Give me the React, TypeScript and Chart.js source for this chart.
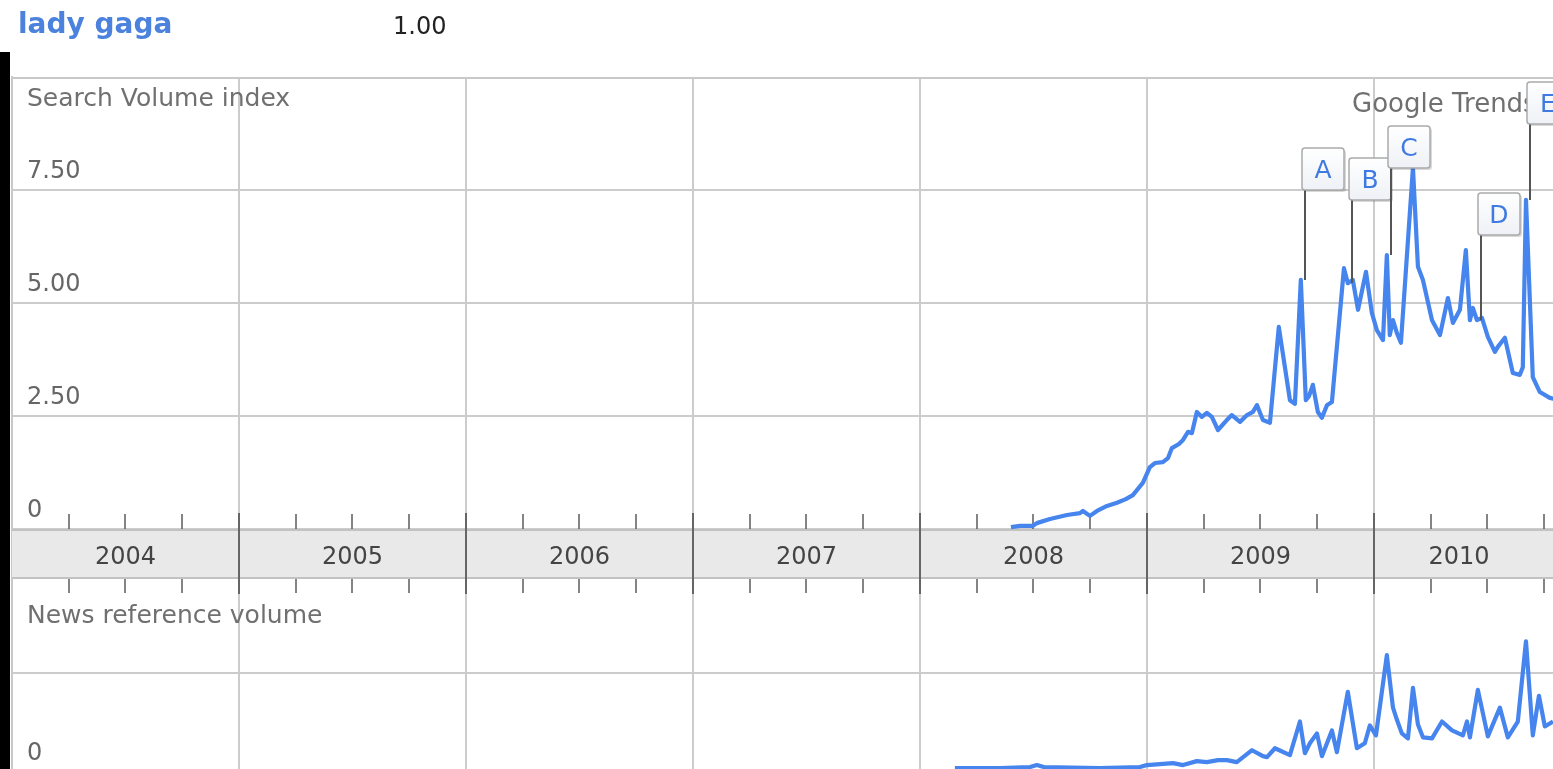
import React, { useEffect, useRef } from 'react';
import { Chart, registerables } from 'chart.js';

Chart.register(...registerables);

// ---------------- data ----------------
const YEARS = [2004, 2005, 2006, 2007, 2008, 2009, 2010];
const YEAR_LABELS = ['2004', '2005', '2006', '2007', '2008', '2009', '2010'];
const AXIS_START = 2004;
const AXIS_END = 2010.789;
const DATA_END = 2010.75;

const SEARCH_TICKS = [0, 2.5, 5, 7.5];
const SEARCH_TICK_LABELS = ['0', '2.50', '5.00', '7.50'];
const NEWS_TICKS = [0, 1];
const NEWS_TICK_LABELS = ['0', ''];

const SEARCH_DATES = [
  2008.401, 2008.441, 2008.498, 2008.515, 2008.573, 2008.648, 2008.705, 2008.718, 2008.749, 2008.780,
  2008.824, 2008.868, 2008.907, 2008.938, 2008.982, 2009.013, 2009.035, 2009.070, 2009.093, 2009.110,
  2009.141, 2009.159, 2009.181, 2009.198, 2009.220, 2009.242, 2009.264, 2009.286, 2009.313, 2009.352,
  2009.374, 2009.410, 2009.441, 2009.467, 2009.485, 2009.511, 2009.542, 2009.581, 2009.630, 2009.652,
  2009.678, 2009.700, 2009.714, 2009.731, 2009.753, 2009.771, 2009.793, 2009.815, 2009.868, 2009.885,
  2009.907, 2009.930, 2009.965, 2009.991, 2010.013, 2010.040, 2010.057, 2010.070, 2010.084, 2010.101,
  2010.119, 2010.172, 2010.194, 2010.216, 2010.256, 2010.291, 2010.326, 2010.348, 2010.379, 2010.405,
  2010.423, 2010.436, 2010.454, 2010.476, 2010.502, 2010.533, 2010.546, 2010.577, 2010.612, 2010.643,
  2010.656, 2010.670, 2010.700, 2010.731, 2010.775, 2010.819,
];
const SEARCH_VALUES = [
  0.04, 0.07, 0.07, 0.13, 0.22, 0.31, 0.35, 0.40, 0.29, 0.40,
  0.51, 0.58, 0.66, 0.75, 1.02, 1.37, 1.46, 1.48, 1.57, 1.79,
  1.88, 1.97, 2.15, 2.12, 2.59, 2.48, 2.57, 2.48, 2.19, 2.41,
  2.52, 2.37, 2.52, 2.59, 2.74, 2.41, 2.35, 4.47, 2.85, 2.77,
  5.51, 2.85, 2.94, 3.19, 2.59, 2.46, 2.74, 2.81, 5.77, 5.44,
  5.51, 4.85, 5.69, 4.78, 4.40, 4.18, 6.06, 4.29, 4.62, 4.34,
  4.12, 7.99, 5.80, 5.51, 4.62, 4.29, 5.11, 4.56, 4.85, 6.17,
  4.62, 4.89, 4.62, 4.67, 4.25, 3.92, 4.03, 4.23, 3.45, 3.41,
  3.58, 7.28, 3.36, 3.03, 2.90, 2.85,
];

const NEWS_DATES = [
  2008.154, 2008.352, 2008.485, 2008.515, 2008.546, 2008.793, 2008.969, 2009.000, 2009.115, 2009.159,
  2009.220, 2009.264, 2009.313, 2009.352, 2009.396, 2009.463, 2009.511, 2009.529, 2009.564, 2009.630,
  2009.674, 2009.696, 2009.718, 2009.749, 2009.771, 2009.815, 2009.837, 2009.885, 2009.925, 2009.960,
  2009.982, 2010.009, 2010.057, 2010.084, 2010.101, 2010.123, 2010.150, 2010.172, 2010.194, 2010.216,
  2010.256, 2010.300, 2010.344, 2010.392, 2010.410, 2010.423, 2010.458, 2010.502, 2010.555, 2010.590,
  2010.634, 2010.670, 2010.700, 2010.727, 2010.753, 2010.789, 2010.819,
];
const NEWS_VALUES = [
  0.04, 0.04, 0.05, 0.07, 0.05, 0.04, 0.05, 0.07, 0.09, 0.07,
  0.11, 0.10, 0.12, 0.12, 0.10, 0.22, 0.16, 0.15, 0.24, 0.17,
  0.51, 0.19, 0.29, 0.39, 0.16, 0.42, 0.20, 0.81, 0.24, 0.29,
  0.47, 0.37, 1.18, 0.65, 0.53, 0.39, 0.34, 0.85, 0.48, 0.35,
  0.34, 0.51, 0.42, 0.37, 0.51, 0.35, 0.83, 0.36, 0.65, 0.35,
  0.51, 1.32, 0.37, 0.77, 0.46, 0.51, 0.50,
];

const FLAG_LETTERS = ['A', 'B', 'C', 'D', 'E'];
const FLAG_DATES = [2009.678, 2009.885, 2010.057, 2010.454, 2010.670];

// ---------------- layout / style ----------------
const W = 1553;
const H = 769;
const PLOT_LEFT = 12;
const PLOT_TOP = 77;
const SEARCH_ZERO_PX = 529;
const SEARCH_PX_PER_UNIT = 339 / 7.5;
const NEWS_ZERO_PX = 772;
const NEWS_PX_PER_UNIT = 99;
const FLAG_BOX_TOPS = [148, 158, 126, 193, 82];
const FLAG_BOX_SIZE = 42;
const FONT = '"DejaVu Sans", sans-serif';
const BLUE = '#4684ee';
const GRID = '#cccccc';

function roundRect(ctx: CanvasRenderingContext2D, x: number, y: number, w: number, h: number, r: number) {
  ctx.beginPath();
  ctx.moveTo(x + r, y);
  ctx.lineTo(x + w - r, y);
  ctx.quadraticCurveTo(x + w, y, x + w, y + r);
  ctx.lineTo(x + w, y + h - r);
  ctx.quadraticCurveTo(x + w, y + h, x + w - r, y + h);
  ctx.lineTo(x + r, y + h);
  ctx.quadraticCurveTo(x, y + h, x, y + h - r);
  ctx.lineTo(x, y + r);
  ctx.quadraticCurveTo(x, y, x + r, y);
  ctx.closePath();
}

const zeroFit = (s: any) => {
  if (s.isHorizontal()) s.height = 0;
  else s.width = 0;
  s.paddingTop = 0;
  s.paddingBottom = 0;
  s.paddingLeft = 0;
  s.paddingRight = 0;
};

const trendsPlugin = {
  id: 'trendsDecor',
  beforeDatasetsDraw(chart: any) {
    const { ctx, chartArea: ca, scales } = chart;
    const xs = scales.x;
    const ys = scales.y;
    const bandTop = Math.round(ys.getPixelForValue(0)) + 1;
    const bandBottom = bandTop + 48;
    ctx.save();
    // top border of the chart box
    ctx.strokeStyle = '#c8c8c8';
    ctx.lineWidth = 2;
    ctx.beginPath();
    ctx.moveTo(ca.left, ca.top + 1);
    ctx.lineTo(ca.right, ca.top + 1);
    ctx.stroke();
    // date band
    ctx.fillStyle = '#e9e9e9';
    ctx.fillRect(ca.left, bandTop, ca.right - ca.left, bandBottom - bandTop);
    ctx.strokeStyle = '#c2c2c2';
    ctx.lineWidth = 2;
    ctx.beginPath();
    ctx.moveTo(ca.left, bandTop);
    ctx.lineTo(ca.right, bandTop);
    ctx.moveTo(ca.left, bandBottom);
    ctx.lineTo(ca.right, bandBottom);
    ctx.stroke();
    // year boundaries and quarter ticks
    ctx.strokeStyle = '#666';
    YEARS.forEach((yr) => {
      const px = Math.round(xs.getPixelForValue(yr));
      if (yr > AXIS_START) {
        ctx.lineWidth = 2;
        ctx.beginPath();
        ctx.moveTo(px, bandTop - 17);
        ctx.lineTo(px, bandBottom + 16);
        ctx.stroke();
      }
      for (let q = 1; q < 4; q++) {
        const qx = Math.round(xs.getPixelForValue(yr + q / 4));
        ctx.lineWidth = 1.6;
        ctx.beginPath();
        ctx.moveTo(qx, bandTop - 16);
        ctx.lineTo(qx, bandTop - 1);
        ctx.moveTo(qx, bandBottom + 1);
        ctx.lineTo(qx, bandBottom + 15);
        ctx.stroke();
      }
    });
    // year labels
    ctx.fillStyle = '#444';
    ctx.font = `24px ${FONT}`;
    ctx.textAlign = 'center';
    ctx.textBaseline = 'alphabetic';
    YEARS.forEach((yr, i) => {
      const mid = (yr + Math.min(yr + 1, DATA_END)) / 2;
      ctx.fillText(YEAR_LABELS[i], xs.getPixelForValue(mid), bandBottom - 14);
    });
    // panel titles
    ctx.fillStyle = '#707070';
    ctx.font = `25px ${FONT}`;
    ctx.textAlign = 'left';
    ctx.fillText('Search Volume index', ca.left + 15, 106);
    ctx.fillText('News reference volume', ca.left + 15, 623);
    ctx.font = `26px ${FONT}`;
    ctx.fillText('Google Trends', 1352, 112);
    ctx.restore();
  },
  afterDatasetsDraw(chart: any) {
    const { ctx, scales } = chart;
    const xs = scales.x;
    const ys = scales.y;
    ctx.save();
    FLAG_LETTERS.forEach((letter, i) => {
      const idx = SEARCH_DATES.indexOf(FLAG_DATES[i]);
      const px = xs.getPixelForValue(FLAG_DATES[i]);
      const py = ys.getPixelForValue(SEARCH_VALUES[idx]);
      const lineX = Math.round(px + 4);
      const top = FLAG_BOX_TOPS[i];
      const bottom = top + FLAG_BOX_SIZE;
      ctx.strokeStyle = '#555';
      ctx.lineWidth = 2;
      ctx.beginPath();
      ctx.moveTo(lineX, bottom);
      ctx.lineTo(lineX, py);
      ctx.stroke();
      const left = lineX - 3;
      ctx.fillStyle = 'rgba(0,0,0,0.15)';
      roundRect(ctx, left + 2, top + 2, FLAG_BOX_SIZE, FLAG_BOX_SIZE, 3);
      ctx.fill();
      const g = ctx.createLinearGradient(0, top, 0, bottom);
      g.addColorStop(0, '#ffffff');
      g.addColorStop(1, '#eef1f6');
      ctx.fillStyle = g;
      roundRect(ctx, left, top, FLAG_BOX_SIZE, FLAG_BOX_SIZE, 3);
      ctx.fill();
      ctx.strokeStyle = '#aaaaaa';
      ctx.lineWidth = 1.5;
      ctx.stroke();
      ctx.fillStyle = '#3f7ae0';
      ctx.font = `25px ${FONT}`;
      ctx.textAlign = 'center';
      ctx.textBaseline = 'alphabetic';
      ctx.fillText(letter, left + FLAG_BOX_SIZE / 2, top + 30);
    });
    ctx.restore();
  },
};

export default function App() {
  const ref = useRef<HTMLCanvasElement>(null);
  useEffect(() => {
    document.body.style.margin = '0';
    document.body.style.overflow = 'hidden';
    const canvas = ref.current!;
    const searchMax = (SEARCH_ZERO_PX - PLOT_TOP) / SEARCH_PX_PER_UNIT;
    const searchMin = -(H - SEARCH_ZERO_PX) / SEARCH_PX_PER_UNIT;
    const newsMax = (NEWS_ZERO_PX - PLOT_TOP) / NEWS_PX_PER_UNIT;
    const newsMin = (NEWS_ZERO_PX - H) / NEWS_PX_PER_UNIT;
    const chart = new Chart(canvas, {
      type: 'line',
      data: {
        datasets: [
          {
            label: 'Search Volume index',
            data: SEARCH_DATES.map((d, i) => ({ x: d, y: SEARCH_VALUES[i] })),
            xAxisID: 'x',
            yAxisID: 'y',
            borderColor: BLUE,
            borderWidth: 4.2,
            pointRadius: 0,
            tension: 0,
            fill: false,
            borderJoinStyle: 'round',
          },
          {
            label: 'News reference volume',
            data: NEWS_DATES.map((d, i) => ({ x: d, y: NEWS_VALUES[i] })),
            xAxisID: 'x',
            yAxisID: 'y2',
            borderColor: BLUE,
            borderWidth: 4.2,
            pointRadius: 0,
            tension: 0,
            fill: false,
            borderJoinStyle: 'round',
            clip: 4,
          },
        ],
      },
      options: {
        responsive: false,
        animation: false,
        devicePixelRatio: 1,
        layout: { padding: { left: PLOT_LEFT, top: PLOT_TOP, right: 0, bottom: 0 } },
        plugins: { legend: { display: false }, tooltip: { enabled: false }, title: { display: false } },
        scales: {
          x: {
            type: 'linear',
            min: AXIS_START,
            max: AXIS_END,
            afterBuildTicks: (s: any) => {
              s.ticks = YEARS.map((v) => ({ value: v }));
            },
            afterFit: zeroFit,
            ticks: { display: false },
            grid: { color: GRID, lineWidth: 2, drawTicks: false },
            border: { display: false },
          },
          y: {
            type: 'linear',
            position: 'left',
            min: searchMin,
            max: searchMax,
            afterBuildTicks: (s: any) => {
              s.ticks = SEARCH_TICKS.map((v) => ({ value: v }));
            },
            afterFit: zeroFit,
            ticks: {
              mirror: true,
              padding: 15,
              labelOffset: -18,
              color: '#666',
              font: { family: FONT, size: 24 },
              callback: (v: any) => SEARCH_TICK_LABELS[SEARCH_TICKS.indexOf(Number(v))] ?? '',
            },
            grid: { color: GRID, lineWidth: 2, drawTicks: false },
            border: { display: true, color: '#c8c8c8', width: 2 },
          },
          y2: {
            type: 'linear',
            position: 'left',
            min: newsMin,
            max: newsMax,
            afterBuildTicks: (s: any) => {
              s.ticks = NEWS_TICKS.map((v) => ({ value: v }));
            },
            afterFit: zeroFit,
            ticks: {
              mirror: true,
              padding: 15,
              labelOffset: -18,
              color: '#666',
              font: { family: FONT, size: 24 },
              callback: (v: any) => NEWS_TICK_LABELS[NEWS_TICKS.indexOf(Number(v))] ?? '',
            },
            grid: { color: GRID, lineWidth: 2, drawTicks: false },
            border: { display: false },
          },
        },
      },
      plugins: [trendsPlugin],
    } as any);
    return () => chart.destroy();
  }, []);

  return (
    <div style={{ position: 'relative', width: W, height: H, background: '#fff', overflow: 'hidden' }}>
      <canvas ref={ref} width={W} height={H} style={{ position: 'absolute', left: 0, top: 0, width: W, height: H }} />
      <div style={{ position: 'absolute', left: 0, top: 52, width: 10, height: H - 52, background: '#000' }} />
      <div
        style={{
          position: 'absolute',
          left: 18,
          top: 7,
          fontFamily: FONT,
          fontWeight: 'bold',
          fontSize: 28,
          color: '#4a82dd',
          whiteSpace: 'nowrap',
        }}
      >
        lady gaga
      </div>
      <div
        style={{
          position: 'absolute',
          left: 393,
          top: 12,
          fontFamily: FONT,
          fontSize: 24,
          color: '#222',
          whiteSpace: 'nowrap',
        }}
      >
        1.00
      </div>
    </div>
  );
}
